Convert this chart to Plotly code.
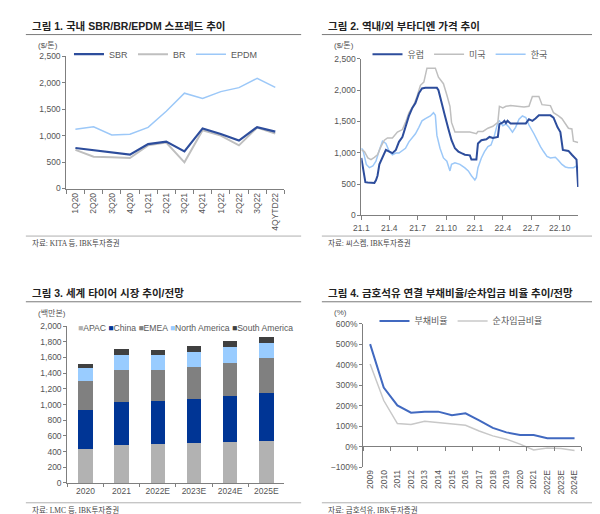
import plotly.graph_objects as go

W, H = 600, 514
def fx(px): return px / W
def fy(py): return 1 - py / H

# ---------------- Panel 1 data ----------------
q_labels = ["1Q20", "2Q20", "3Q20", "4Q20", "1Q21", "2Q21", "3Q21", "4Q21",
            "1Q22", "2Q22", "3Q22", "4QYTD22"]
sbr = [765, 720, 680, 640, 840, 885, 700, 1135, 1030, 905, 1160, 1075]
br = [730, 600, 590, 575, 815, 870, 495, 1100, 1000, 815, 1150, 1040]
epdm = [1120, 1165, 1010, 1025, 1155, 1460, 1800, 1700, 1830, 1905, 2080, 1910]

# ---------------- Panel 2 data ----------------
eu_dates = ["2021-01-01", "2021-01-14", "2021-01-22", "2021-02-01", "2021-02-12", "2021-02-17",
            "2021-02-22", "2021-02-28", "2021-03-10", "2021-03-21", "2021-04-01", "2021-04-11",
            "2021-04-22", "2021-05-02", "2021-05-13", "2021-05-23", "2021-06-03", "2021-06-14",
            "2021-06-24", "2021-07-05", "2021-07-15", "2021-07-26", "2021-08-11", "2021-09-01",
            "2021-09-06", "2021-09-17", "2021-09-27", "2021-10-08", "2021-10-18", "2021-10-29",
            "2021-11-09", "2021-11-19", "2021-11-30", "2021-12-16", "2021-12-21", "2022-01-06",
            "2022-01-11", "2022-01-22", "2022-02-07", "2022-02-17", "2022-02-28", "2022-03-16",
            "2022-03-21", "2022-04-01", "2022-04-06", "2022-04-11", "2022-04-16", "2022-04-26",
            "2022-05-17", "2022-06-14", "2022-06-24", "2022-07-05", "2022-07-15", "2022-07-26",
            "2022-09-01", "2022-09-11", "2022-09-24", "2022-10-03", "2022-10-11", "2022-10-29",
            "2022-11-09", "2022-11-19", "2022-11-24", "2022-11-29"]
eu_vals = [918, 531, 525, 520, 520, 560,
           634, 815, 918, 1046, 1020, 995,
           1046, 1175, 1253, 1407, 1588, 1717,
           1794, 1949, 2026, 2036, 2036, 2036,
           2000, 1768, 1588, 1381, 1201, 1072,
           1020, 995, 969, 959, 892, 892,
           1150, 1201, 1217, 1253, 1237, 1253,
           1459, 1485, 1510, 1474, 1510, 1469,
           1469, 1469, 1536, 1510, 1546, 1598,
           1598, 1562, 1407, 1330, 1046, 1030,
           969, 918, 892, 454]

us_dates = ["2021-01-01", "2021-01-11", "2021-01-22", "2021-02-01", "2021-02-12", "2021-02-22",
            "2021-03-05", "2021-03-16", "2021-03-26", "2021-04-11", "2021-04-27", "2021-05-13",
            "2021-05-23", "2021-06-03", "2021-06-19", "2021-06-29", "2021-07-10", "2021-07-21",
            "2021-07-31", "2021-08-27", "2021-09-06", "2021-09-22", "2021-10-03", "2021-10-13",
            "2021-10-18", "2021-10-29", "2021-11-03", "2021-12-16", "2022-01-06", "2022-01-11",
            "2022-01-27", "2022-02-12", "2022-02-28", "2022-03-16", "2022-03-21", "2022-04-01",
            "2022-04-11", "2022-04-26", "2022-05-17", "2022-06-08", "2022-06-24", "2022-07-05",
            "2022-07-26", "2022-08-05", "2022-09-01", "2022-09-11", "2022-09-27", "2022-10-08",
            "2022-10-29", "2022-11-09", "2022-11-14", "2022-11-29"]
us_vals = [1046, 1020, 918, 892, 928, 969,
           1098, 1201, 1237, 1237, 1330, 1371,
           1485, 1639, 1768, 1897, 2077, 2129,
           2351, 2351, 2206, 2103, 1923, 1742,
           1485, 1330, 1330, 1330, 1304, 1340,
           1340, 1392, 1423, 1485, 1742, 1717,
           1742, 1753, 1742, 1732, 1742, 1897,
           1897, 1768, 1753, 1639, 1588, 1546,
           1392, 1381, 1186, 1165]

kr_dates = ["2021-01-01", "2021-01-06", "2021-01-17", "2021-01-27", "2021-02-07", "2021-02-17",
            "2021-02-28", "2021-03-10", "2021-03-21", "2021-04-01", "2021-04-11", "2021-04-22",
            "2021-05-02", "2021-05-13", "2021-05-23", "2021-06-03", "2021-06-14", "2021-06-24",
            "2021-07-05", "2021-07-15", "2021-07-26", "2021-08-11", "2021-08-21", "2021-08-27",
            "2021-09-01", "2021-09-11", "2021-09-22", "2021-10-03", "2021-10-13", "2021-10-18",
            "2021-10-29", "2021-11-14", "2021-11-30", "2021-12-11", "2021-12-21", "2022-01-01",
            "2022-01-06", "2022-01-11", "2022-01-22", "2022-02-01", "2022-02-12", "2022-02-22",
            "2022-03-05", "2022-03-16", "2022-03-21", "2022-04-01", "2022-04-11", "2022-04-21",
            "2022-05-02", "2022-05-12", "2022-05-23", "2022-06-03", "2022-06-14", "2022-06-24",
            "2022-07-10", "2022-07-20", "2022-07-31", "2022-08-10", "2022-08-21", "2022-09-01",
            "2022-09-17", "2022-09-27", "2022-10-08", "2022-10-19", "2022-10-29", "2022-11-14",
            "2022-11-24", "2022-11-29"]
kr_vals = [1072, 1046, 815, 763, 789, 866,
           1046, 1186, 1150, 1020, 969, 995,
           995, 1030, 1072, 1175, 1237, 1304,
           1407, 1510, 1546, 1588, 1639, 1598,
           1278, 1072, 918, 866, 711, 815,
           840, 815, 760, 711, 634, 567,
           608, 763, 918, 1020, 1098, 1124,
           1278, 1485, 1510, 1433, 1459, 1407,
           1330, 1407, 1536, 1588, 1562, 1443,
           1304, 1201, 1098, 1020, 943, 918,
           928, 877, 815, 774, 763, 763,
           789, 763]

m_tickvals = ["2021-01-01", "2021-04-01", "2021-07-01", "2021-10-01",
              "2022-01-01", "2022-04-01", "2022-07-01", "2022-10-01"]
m_ticktext = ["21.1", "21.4", "21.7", "21.10", "22.1", "22.4", "22.7", "22.10"]

# ---------------- Panel 3 data ----------------
years3 = ["2020", "2021", "2022E", "2023E", "2024E", "2025E"]
apac = [437, 483, 495, 504, 525, 533]
china = [492, 550, 555, 566, 587, 617]
emea = [375, 408, 391, 409, 421, 437]
north_am = [158, 196, 196, 187, 200, 196]
south_am = [58, 71, 63, 75, 71, 75]
regions = ["APAC", "China", "EMEA", "North America", "South America"]
region_colors = ["#B2B2B2", "#003595", "#808080", "#99CCFF", "#404040"]

# ---------------- Panel 4 data ----------------
years4 = ["2009", "2010", "2011", "2012", "2013", "2014", "2015", "2016", "2017",
          "2018", "2019", "2020", "2021", "2022E", "2023E", "2024E"]
debt_ratio = [500, 288, 201, 166, 171, 171, 153, 163, 129, 92, 70, 57, 57, 42, 42, 41]
net_debt_ratio = [403, 225, 113, 108, 124, 118, 110, 105, 77, 53, 37, 13, -16, -6, -9, -18]

DARK = "#2D4D9C"
GRAY = "#BFBFBF"
LIGHT = "#9CC8F8"
TICKF = dict(family="Liberation Sans, Arial", size=8.5, color="#555555")
AXC = "#7F7F7F"

fig = go.Figure()

# Panel 1 traces
fig.add_trace(go.Scatter(x=q_labels, y=epdm, name="EPDM", mode="lines",
                         line=dict(color=LIGHT, width=1.5), xaxis="x", yaxis="y",
                         legend="legend", legendrank=3))
fig.add_trace(go.Scatter(x=q_labels, y=br, name="BR", mode="lines",
                         line=dict(color=GRAY, width=2), xaxis="x", yaxis="y",
                         legend="legend", legendrank=2))
fig.add_trace(go.Scatter(x=q_labels, y=sbr, name="SBR", mode="lines",
                         line=dict(color=DARK, width=2.2), xaxis="x", yaxis="y",
                         legend="legend", legendrank=1))

# Panel 2 traces
fig.add_trace(go.Scatter(x=kr_dates, y=kr_vals, name="한국", mode="lines",
                         line=dict(color=LIGHT, width=1.5), xaxis="x2", yaxis="y2",
                         legend="legend2", legendrank=3))
fig.add_trace(go.Scatter(x=us_dates, y=us_vals, name="미국", mode="lines",
                         line=dict(color=GRAY, width=1.5), xaxis="x2", yaxis="y2",
                         legend="legend2", legendrank=2))
fig.add_trace(go.Scatter(x=eu_dates, y=eu_vals, name="유럽", mode="lines",
                         line=dict(color=DARK, width=2), xaxis="x2", yaxis="y2",
                         legend="legend2", legendrank=1))

# Panel 3 traces
for name, vals, col in zip(regions, [apac, china, emea, north_am, south_am], region_colors):
    fig.add_trace(go.Bar(x=years3, y=vals, name=name, marker=dict(color=col, line=dict(width=0)),
                         xaxis="x3", yaxis="y3", showlegend=False))

# Panel 4 traces
fig.add_trace(go.Scatter(x=years4, y=net_debt_ratio, name="순차입금비율", mode="lines",
                         line=dict(color="#C8C8C8", width=1.5), xaxis="x5", yaxis="y4",
                         legend="legend4", legendrank=2))
fig.add_trace(go.Scatter(x=years4, y=debt_ratio, name="부채비율", mode="lines",
                         line=dict(color="#4169C0", width=2), xaxis="x4", yaxis="y4",
                         legend="legend4", legendrank=1))

common_y = dict(showgrid=False, zeroline=False, showline=True, linecolor=AXC, linewidth=1,
                ticks="outside", ticklen=3, tickcolor=AXC, tickfont=TICKF, tickformat=",")
common_x = dict(showgrid=False, zeroline=False, showline=True, linecolor=AXC, linewidth=1,
                ticks="outside", ticklen=4, tickcolor=AXC, tickfont=TICKF)

fig.update_layout(
    width=W, height=H, margin=dict(l=0, r=0, t=0, b=0),
    paper_bgcolor="white", plot_bgcolor="white",
    barmode="stack", bargap=0.6,
    font=dict(family="Liberation Sans, Noto Sans CJK KR", size=9, color="#404040"),
    xaxis=dict(common_x, domain=[fx(51), fx(272)], anchor="y", type="category",
               range=[-0.5, 11.5], tickson="boundaries", tickangle=-90),
    yaxis=dict(common_y, domain=[fy(179), fy(44)], anchor="x", range=[0, 2500], dtick=500),
    xaxis2=dict(common_x, domain=[fx(350), fx(570)], anchor="y2", type="date",
                range=["2021-01-01", "2022-11-30"], tickvals=m_tickvals, ticktext=m_ticktext,
                tickangle=0),
    yaxis2=dict(common_y, domain=[fy(206.5), fy(46.7)], anchor="x2", range=[0, 2500], dtick=500),
    xaxis3=dict(common_x, domain=[fx(52), fx(272)], anchor="y3", type="category",
                range=[-0.5, 5.5], tickson="boundaries", ticklen=3, tickangle=0),
    yaxis3=dict(common_y, domain=[fy(479.3), fy(319.3)], anchor="x3", range=[0, 2000], dtick=200),
    xaxis4=dict(common_x, domain=[fx(352), fx(573)], anchor="y4", type="category",
                range=[-0.5, 15.5], showline=False, ticks="", tickangle=-90,
                categoryorder="array", categoryarray=years4),
    xaxis5=dict(common_x, overlaying="x4", anchor="free", position=fy(442), type="category",
                range=[-0.5, 15.5], tickson="boundaries", showticklabels=False,
                categoryorder="array", categoryarray=years4),
    yaxis4=dict(common_y, domain=[fy(463.3), fy(316.7)], anchor="x4", range=[-100, 600],
                dtick=100, ticksuffix="%", tickformat="d"),
)

leg_common = dict(orientation="h", xanchor="center", yanchor="middle", bgcolor="rgba(0,0,0,0)",
                  font=dict(family="Liberation Sans, Noto Sans CJK KR", size=9, color="#595959"),
                  itemwidth=30, tracegroupgap=0, traceorder="normal")
fig.update_layout(
    legend=dict(leg_common, x=fx(152), y=fy(42)),
    legend2=dict(leg_common, x=fx(450), y=fy(42)),
    legend4=dict(leg_common, x=fx(451), y=fy(314)),
)

# Legend for bar panel (compact, one row, as in the reference)
leg3_text = " ".join(f"<span style='color:{c}'>■</span>{n}" for n, c in zip(regions, region_colors))
fig.add_annotation(x=fx(61), y=fy(321), xref="paper", yref="paper", text=leg3_text,
                   showarrow=False, xanchor="left", yanchor="middle",
                   font=dict(family="Liberation Sans, DejaVu Sans", size=8.6, color="#595959"))

# Titles, units, sources
TITLE_F = dict(family="Liberation Sans, Noto Sans CJK KR", size=10.5, color="#222222", weight="bold")
SRC_F = dict(family="Liberation Serif, Noto Sans CJK KR", size=7.5, color="#444444")
UNIT_F = dict(family="Liberation Sans, Noto Sans CJK KR", size=8, color="#555555")
anns = [
    (14, 13, "그림 1. 국내 SBR/BR/EPDM 스프레드 추이", TITLE_F),
    (314, 13, "그림 2. 역내/외 부타디엔 가격 추이", TITLE_F),
    (14, 286, "그림 3. 세계 타이어 시장 추이/전망", TITLE_F),
    (314, 286, "그림 4. 금호석유 연결 부채비율/순차입금 비율 추이/전망", TITLE_F),
    (20, 33, "($/톤)", UNIT_F),
    (320, 33, "($/톤)", UNIT_F),
    (20, 306, "(백만본)", UNIT_F),
    (320, 305, "(%)", UNIT_F),
    (14, 235, "자료: KITA 등, IBK투자증권", SRC_F),
    (314, 235, "자료: 씨스켐, IBK투자증권", SRC_F),
    (14, 507, "자료: LMC 등, IBK투자증권", SRC_F),
    (314, 507, "자료: 금호석유, IBK투자증권", SRC_F),
]
for x, y, t, f in anns:
    fig.add_annotation(x=fx(x), y=fy(y), xref="paper", yref="paper", text=t, showarrow=False,
                       xanchor="left", yanchor="middle", font=f)

for x0, x1, y, col, w in [(10, 289, 22, "#7A7A7A", 1), (310, 589, 22, "#7A7A7A", 1),
                          (10, 289, 294.5, "#7A7A7A", 1), (310, 589, 294.5, "#7A7A7A", 1),
                          (10, 289, 227.5, "#9A9A9A", 0.8), (310, 589, 227.5, "#9A9A9A", 0.8),
                          (10, 289, 499.5, "#9A9A9A", 0.8), (310, 589, 499.5, "#9A9A9A", 0.8)]:
    fig.add_shape(type="line", xref="paper", yref="paper", x0=fx(x0), x1=fx(x1),
                  y0=fy(y), y1=fy(y), line=dict(color=col, width=w))

fig.write_html("out.html")
